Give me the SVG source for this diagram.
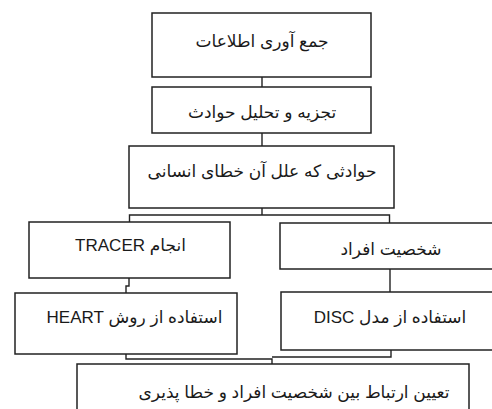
<svg xmlns="http://www.w3.org/2000/svg" width="492" height="409" viewBox="0 0 492 409">
<style>
.box{fill:#fff;stroke:#222;stroke-width:1.5}
.con{fill:none;stroke:#222;stroke-width:1.4}
.t{font-family:"Liberation Sans","DejaVu Sans",sans-serif;font-size:17px;fill:#1a1a1a;text-anchor:middle;direction:rtl;unicode-bidi:embed}
</style>
<rect width="492" height="409" fill="#fff"/>
<g id="connectors">
<path class="con" d="M262,77V87"/>
<path class="con" d="M262,133V146"/>
<path class="con" d="M262,208V215M129.5,222V215H389.5V223"/>
<path class="con" d="M129,278V286H126V293"/>
<path class="con" d="M390,269V292"/>
<path class="con" d="M126,354V359H272V364M391,350V357H272"/>
</g>
<g id="n1"><rect class="box" x="152" y="13" width="219" height="64"/><text class="t" x="262" y="47">جمع آوری اطلاعات</text></g>
<g id="n2"><rect class="box" x="152" y="87" width="219" height="46"/><text class="t" x="262" y="118">تجزیه و تحلیل حوادث</text></g>
<g id="n3"><rect class="box" x="129" y="146" width="265" height="62"/><text class="t" x="262" y="177">حوادثی که علل آن خطای انسانی</text></g>
<g id="n4"><rect class="box" x="29" y="222" width="201" height="56"/><text class="t" x="130.5" y="251">انجام TRACER</text></g>
<g id="n5"><rect class="box" x="280" y="223" width="230" height="46"/><text class="t" x="391" y="255">شخصیت افراد</text></g>
<g id="n6"><rect class="box" x="15" y="293" width="222" height="61"/><text class="t" x="134.5" y="323">استفاده از روش HEART</text></g>
<g id="n7"><rect class="box" x="281" y="292" width="229" height="58"/><text class="t" x="390" y="323">استفاده از مدل DISC</text></g>
<g id="n8"><rect class="box" x="77" y="364" width="392" height="60"/><text class="t" x="294" y="398">تعیین ارتباط بین شخصیت افراد و خطا پذیری</text></g>
</svg>
